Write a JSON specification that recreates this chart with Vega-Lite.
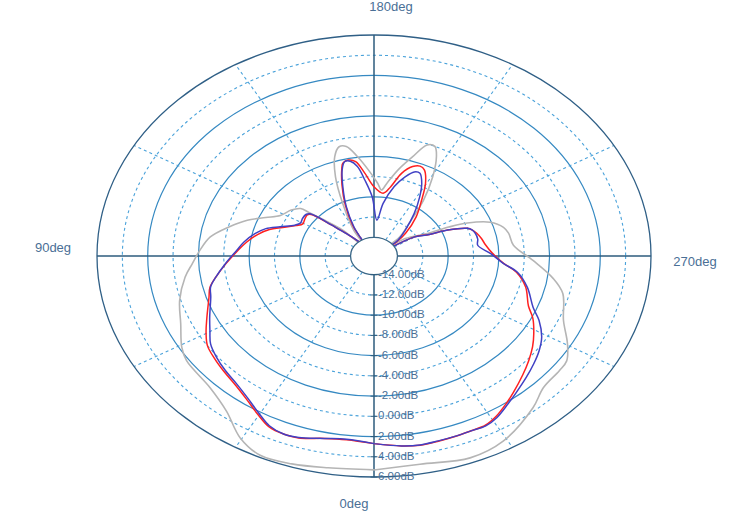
{
  "$schema": "https://vega.github.io/schema/vega-lite/v6.json",
  "width": 554,
  "height": 442,
  "autosize": {"type": "none"},
  "padding": {"left": 97, "top": 35, "right": 84, "bottom": 35},
  "background": "white",
  "config": {"view": {"stroke": null}, "font": "Liberation Sans"},
  "datasets": {
    "solidRings": [{"level": -10}, {"level": -6}, {"level": -2}, {"level": 2}],
    "dashedRings": [{"level": -12}, {"level": -8}, {"level": -4}, {"level": 0}, {"level": 4}],
    "outerRing": [{"level": 6}],
    "center": [{"level": -14}],
    "spokes": [{"angle": 30}, {"angle": 60}, {"angle": 120}, {"angle": 150}, {"angle": 210}, {"angle": 240}, {"angle": 300}, {"angle": 330}],
    "angleLabels": [{"angle": 0, "label": "0deg"}, {"angle": 90, "label": "90deg"}, {"angle": 180, "label": "180deg"}, {"angle": 270, "label": "270deg"}],
    "radialLabels": [{"level": -14}, {"level": -12}, {"level": -10}, {"level": -8}, {"level": -6}, {"level": -4}, {"level": -2}, {"level": 0}, {"level": 2}, {"level": 4}, {"level": 6}],
    "traces": [
      {"trace": "Gray", "angle": 0, "dB": 5.3}, {"trace": "Gray", "angle": 9.8, "dB": 5.4}, {"trace": "Gray", "angle": 17.5, "dB": 5.7}, {"trace": "Gray", "angle": 24.5, "dB": 5.8}, {"trace": "Gray", "angle": 30.4, "dB": 5.0}, {"trace": "Gray", "angle": 37.2, "dB": 3.4}, {"trace": "Gray", "angle": 44.8, "dB": 2.5}, {"trace": "Gray", "angle": 55, "dB": 2.2}, {"trace": "Gray", "angle": 59.2, "dB": 1.8}, {"trace": "Gray", "angle": 66.3, "dB": 0.8}, {"trace": "Gray", "angle": 74, "dB": 0.1}, {"trace": "Gray", "angle": 82, "dB": -0.8}, {"trace": "Gray", "angle": 87, "dB": -1.5}, {"trace": "Gray", "angle": 92.3, "dB": -2.1}, {"trace": "Gray", "angle": 98.3, "dB": -2.8}, {"trace": "Gray", "angle": 104.1, "dB": -4.05}, {"trace": "Gray", "angle": 109.5, "dB": -5.25}, {"trace": "Gray", "angle": 114, "dB": -6.5}, {"trace": "Gray", "angle": 118.5, "dB": -7.45}, {"trace": "Gray", "angle": 124.8, "dB": -7.9}, {"trace": "Gray", "angle": 129, "dB": -8.4}, {"trace": "Gray", "angle": 130, "dB": -9.2}, {"trace": "Gray", "angle": 132.2, "dB": -10.6}, {"trace": "Gray", "angle": 136, "dB": -12.3}, {"trace": "Gray", "angle": 142, "dB": -15}, {"trace": "Gray", "angle": 148, "dB": -12.85}, {"trace": "Gray", "angle": 154.6, "dB": -10.1}, {"trace": "Gray", "angle": 158.8, "dB": -7.45}, {"trace": "Gray", "angle": 162.5, "dB": -5.55}, {"trace": "Gray", "angle": 165.7, "dB": -4.7}, {"trace": "Gray", "angle": 168.6, "dB": -4.8}, {"trace": "Gray", "angle": 172.5, "dB": -5.95}, {"trace": "Gray", "angle": 177.1, "dB": -7.35}, {"trace": "Gray", "angle": 182.3, "dB": -8.65}, {"trace": "Gray", "angle": 185.1, "dB": -9.3}, {"trace": "Gray", "angle": 188, "dB": -8.6}, {"trace": "Gray", "angle": 192.5, "dB": -7.15}, {"trace": "Gray", "angle": 197.2, "dB": -5.6}, {"trace": "Gray", "angle": 200.9, "dB": -4.1}, {"trace": "Gray", "angle": 203.9, "dB": -4.0}, {"trace": "Gray", "angle": 206.6, "dB": -4.85}, {"trace": "Gray", "angle": 210.6, "dB": -6.75}, {"trace": "Gray", "angle": 215.3, "dB": -9.1}, {"trace": "Gray", "angle": 220.6, "dB": -11.6}, {"trace": "Gray", "angle": 227.2, "dB": -13.1}, {"trace": "Gray", "angle": 231, "dB": -15}, {"trace": "Gray", "angle": 235, "dB": -12.85}, {"trace": "Gray", "angle": 242.2, "dB": -11.1}, {"trace": "Gray", "angle": 244.1, "dB": -9.3}, {"trace": "Gray", "angle": 246.1, "dB": -7.8}, {"trace": "Gray", "angle": 250, "dB": -6.1}, {"trace": "Gray", "angle": 254.5, "dB": -5.25}, {"trace": "Gray", "angle": 258, "dB": -5.0}, {"trace": "Gray", "angle": 264.5, "dB": -4.8}, {"trace": "Gray", "angle": 272, "dB": -3.3}, {"trace": "Gray", "angle": 278.9, "dB": -1.55}, {"trace": "Gray", "angle": 284, "dB": -0.5}, {"trace": "Gray", "angle": 293.1, "dB": 0.4}, {"trace": "Gray", "angle": 299.6, "dB": 1.7}, {"trace": "Gray", "angle": 304.3, "dB": 2.55}, {"trace": "Gray", "angle": 307.8, "dB": 2.65}, {"trace": "Gray", "angle": 314.2, "dB": 2.8}, {"trace": "Gray", "angle": 320.1, "dB": 3.7}, {"trace": "Gray", "angle": 330.9, "dB": 5.1}, {"trace": "Gray", "angle": 339.2, "dB": 5.5}, {"trace": "Gray", "angle": 350, "dB": 5.05}, {"trace": "Gray", "angle": 360, "dB": 5.3},
      {"trace": "Red", "angle": 0, "dB": 2.7}, {"trace": "Red", "angle": 6.8, "dB": 2.45}, {"trace": "Red", "angle": 12.2, "dB": 2.6}, {"trace": "Red", "angle": 18.3, "dB": 3.1}, {"trace": "Red", "angle": 21.9, "dB": 3.15}, {"trace": "Red", "angle": 26.2, "dB": 2.95}, {"trace": "Red", "angle": 30.3, "dB": 2.3}, {"trace": "Red", "angle": 35.5, "dB": 1.5}, {"trace": "Red", "angle": 40.6, "dB": 0.95}, {"trace": "Red", "angle": 46, "dB": 0.6}, {"trace": "Red", "angle": 51.2, "dB": 0.3}, {"trace": "Red", "angle": 56, "dB": 0.0}, {"trace": "Red", "angle": 60.3, "dB": -0.6}, {"trace": "Red", "angle": 65, "dB": -1.3}, {"trace": "Red", "angle": 72.5, "dB": -2.2}, {"trace": "Red", "angle": 76.6, "dB": -2.55}, {"trace": "Red", "angle": 80.5, "dB": -3.2}, {"trace": "Red", "angle": 86.3, "dB": -4.15}, {"trace": "Red", "angle": 92.9, "dB": -5.1}, {"trace": "Red", "angle": 97.7, "dB": -5.7}, {"trace": "Red", "angle": 103.2, "dB": -6.45}, {"trace": "Red", "angle": 107.6, "dB": -7.2}, {"trace": "Red", "angle": 111.3, "dB": -8.1}, {"trace": "Red", "angle": 116, "dB": -9.0}, {"trace": "Red", "angle": 119.5, "dB": -9.4}, {"trace": "Red", "angle": 123.3, "dB": -9.3}, {"trace": "Red", "angle": 127.7, "dB": -9.2}, {"trace": "Red", "angle": 129.6, "dB": -9.4}, {"trace": "Red", "angle": 130.8, "dB": -10.0}, {"trace": "Red", "angle": 132.4, "dB": -11.3}, {"trace": "Red", "angle": 135.5, "dB": -12.75}, {"trace": "Red", "angle": 140, "dB": -14}, {"trace": "Red", "angle": 144, "dB": -15}, {"trace": "Red", "angle": 151, "dB": -12.4}, {"trace": "Red", "angle": 155.9, "dB": -10.3}, {"trace": "Red", "angle": 160.2, "dB": -8.4}, {"trace": "Red", "angle": 163.5, "dB": -6.9}, {"trace": "Red", "angle": 165, "dB": -6.35}, {"trace": "Red", "angle": 167.9, "dB": -6.15}, {"trace": "Red", "angle": 171.2, "dB": -6.4}, {"trace": "Red", "angle": 175, "dB": -7.65}, {"trace": "Red", "angle": 180, "dB": -9.0}, {"trace": "Red", "angle": 186.6, "dB": -9.6}, {"trace": "Red", "angle": 190.8, "dB": -8.9}, {"trace": "Red", "angle": 194.9, "dB": -7.4}, {"trace": "Red", "angle": 199, "dB": -6.5}, {"trace": "Red", "angle": 202.2, "dB": -6.25}, {"trace": "Red", "angle": 205, "dB": -6.45}, {"trace": "Red", "angle": 209.5, "dB": -7.6}, {"trace": "Red", "angle": 214.3, "dB": -9.2}, {"trace": "Red", "angle": 220.7, "dB": -10.75}, {"trace": "Red", "angle": 228, "dB": -12.5}, {"trace": "Red", "angle": 232, "dB": -13.6}, {"trace": "Red", "angle": 235, "dB": -15}, {"trace": "Red", "angle": 239.2, "dB": -12.2}, {"trace": "Red", "angle": 244, "dB": -11.0}, {"trace": "Red", "angle": 246.2, "dB": -9.5}, {"trace": "Red", "angle": 249.6, "dB": -8.0}, {"trace": "Red", "angle": 251.5, "dB": -7.7}, {"trace": "Red", "angle": 254.3, "dB": -7.45}, {"trace": "Red", "angle": 258.5, "dB": -7.2}, {"trace": "Red", "angle": 262.6, "dB": -7.0}, {"trace": "Red", "angle": 268.4, "dB": -6.5}, {"trace": "Red", "angle": 274.1, "dB": -5.6}, {"trace": "Red", "angle": 278.1, "dB": -4.5}, {"trace": "Red", "angle": 284.4, "dB": -3.5}, {"trace": "Red", "angle": 292.1, "dB": -2.7}, {"trace": "Red", "angle": 296.1, "dB": -1.9}, {"trace": "Red", "angle": 301.3, "dB": -1.1}, {"trace": "Red", "angle": 305.7, "dB": -0.45}, {"trace": "Red", "angle": 310.3, "dB": 0.15}, {"trace": "Red", "angle": 315, "dB": 0.75}, {"trace": "Red", "angle": 320.8, "dB": 1.55}, {"trace": "Red", "angle": 324.2, "dB": 2.05}, {"trace": "Red", "angle": 328.7, "dB": 2.7}, {"trace": "Red", "angle": 332.3, "dB": 3.05}, {"trace": "Red", "angle": 336.1, "dB": 3.05}, {"trace": "Red", "angle": 339.9, "dB": 3.1}, {"trace": "Red", "angle": 344.5, "dB": 3.15}, {"trace": "Red", "angle": 349, "dB": 3.2}, {"trace": "Red", "angle": 353.4, "dB": 3.05}, {"trace": "Red", "angle": 360, "dB": 2.7},
      {"trace": "Blue", "angle": 0, "dB": 2.7}, {"trace": "Blue", "angle": 6.8, "dB": 2.4}, {"trace": "Blue", "angle": 12.2, "dB": 2.6}, {"trace": "Blue", "angle": 18.3, "dB": 3.05}, {"trace": "Blue", "angle": 21.9, "dB": 3.15}, {"trace": "Blue", "angle": 26.2, "dB": 2.85}, {"trace": "Blue", "angle": 30.3, "dB": 2.15}, {"trace": "Blue", "angle": 35.5, "dB": 1.35}, {"trace": "Blue", "angle": 40.6, "dB": 0.8}, {"trace": "Blue", "angle": 46, "dB": 0.45}, {"trace": "Blue", "angle": 51.2, "dB": 0.1}, {"trace": "Blue", "angle": 56, "dB": -0.3}, {"trace": "Blue", "angle": 60.3, "dB": -0.95}, {"trace": "Blue", "angle": 65, "dB": -1.55}, {"trace": "Blue", "angle": 72.5, "dB": -2.35}, {"trace": "Blue", "angle": 76.6, "dB": -2.6}, {"trace": "Blue", "angle": 80.5, "dB": -3.2}, {"trace": "Blue", "angle": 86.3, "dB": -4.1}, {"trace": "Blue", "angle": 92.9, "dB": -5.0}, {"trace": "Blue", "angle": 97.7, "dB": -5.5}, {"trace": "Blue", "angle": 103.2, "dB": -6.2}, {"trace": "Blue", "angle": 107.6, "dB": -6.9}, {"trace": "Blue", "angle": 111.3, "dB": -7.9}, {"trace": "Blue", "angle": 116, "dB": -8.9}, {"trace": "Blue", "angle": 119.5, "dB": -9.2}, {"trace": "Blue", "angle": 123.3, "dB": -9.1}, {"trace": "Blue", "angle": 127.7, "dB": -9.1}, {"trace": "Blue", "angle": 129.6, "dB": -9.3}, {"trace": "Blue", "angle": 130.8, "dB": -9.9}, {"trace": "Blue", "angle": 132.4, "dB": -11.3}, {"trace": "Blue", "angle": 135.5, "dB": -12.75}, {"trace": "Blue", "angle": 140, "dB": -14}, {"trace": "Blue", "angle": 144, "dB": -15}, {"trace": "Blue", "angle": 151.1, "dB": -12.6}, {"trace": "Blue", "angle": 155.9, "dB": -10.5}, {"trace": "Blue", "angle": 160.2, "dB": -8.6}, {"trace": "Blue", "angle": 163.5, "dB": -7.0}, {"trace": "Blue", "angle": 166, "dB": -6.25}, {"trace": "Blue", "angle": 168.7, "dB": -6.3}, {"trace": "Blue", "angle": 171.6, "dB": -6.9}, {"trace": "Blue", "angle": 174.5, "dB": -8.3}, {"trace": "Blue", "angle": 178.6, "dB": -10.0}, {"trace": "Blue", "angle": 183.7, "dB": -12.3}, {"trace": "Blue", "angle": 187.9, "dB": -10.6}, {"trace": "Blue", "angle": 193.1, "dB": -8.8}, {"trace": "Blue", "angle": 197.4, "dB": -7.65}, {"trace": "Blue", "angle": 200.9, "dB": -6.95}, {"trace": "Blue", "angle": 203.9, "dB": -6.9}, {"trace": "Blue", "angle": 207.7, "dB": -7.75}, {"trace": "Blue", "angle": 211.7, "dB": -9.0}, {"trace": "Blue", "angle": 217.1, "dB": -10.6}, {"trace": "Blue", "angle": 224, "dB": -12.3}, {"trace": "Blue", "angle": 230.5, "dB": -13.4}, {"trace": "Blue", "angle": 235, "dB": -15}, {"trace": "Blue", "angle": 239.2, "dB": -12.25}, {"trace": "Blue", "angle": 244, "dB": -11.0}, {"trace": "Blue", "angle": 246.2, "dB": -9.5}, {"trace": "Blue", "angle": 249.6, "dB": -8.0}, {"trace": "Blue", "angle": 251.5, "dB": -7.7}, {"trace": "Blue", "angle": 254.3, "dB": -7.55}, {"trace": "Blue", "angle": 258.5, "dB": -7.5}, {"trace": "Blue", "angle": 262.6, "dB": -7.6}, {"trace": "Blue", "angle": 268.4, "dB": -6.67}, {"trace": "Blue", "angle": 274.1, "dB": -5.63}, {"trace": "Blue", "angle": 278.1, "dB": -4.42}, {"trace": "Blue", "angle": 284.4, "dB": -3.36}, {"trace": "Blue", "angle": 292.1, "dB": -2.3}, {"trace": "Blue", "angle": 296.1, "dB": -1.35}, {"trace": "Blue", "angle": 301.3, "dB": -0.37}, {"trace": "Blue", "angle": 305.7, "dB": 0.19}, {"trace": "Blue", "angle": 310.3, "dB": 0.66}, {"trace": "Blue", "angle": 315, "dB": 1.13}, {"trace": "Blue", "angle": 320.8, "dB": 1.77}, {"trace": "Blue", "angle": 324.2, "dB": 2.2}, {"trace": "Blue", "angle": 328.7, "dB": 2.83}, {"trace": "Blue", "angle": 332.3, "dB": 3.12}, {"trace": "Blue", "angle": 336.1, "dB": 3.06}, {"trace": "Blue", "angle": 339.9, "dB": 3.09}, {"trace": "Blue", "angle": 344.5, "dB": 3.12}, {"trace": "Blue", "angle": 349, "dB": 3.18}, {"trace": "Blue", "angle": 353.4, "dB": 3.05}, {"trace": "Blue", "angle": 360, "dB": 2.7}
    ]
  },
  "layer": [
    {
      "data": {"name": "dashedRings"},
      "transform": [{"calculate": "datum.level + 15.85", "as": "r"}],
      "mark": {"type": "point", "shape": "M1,0C1,0.4406,0.5523,0.7978,0,0.7978C-0.5523,0.7978,-1,0.4406,-1,0C-1,-0.4406,-0.5523,-0.7978,0,-0.7978C0.5523,-0.7978,1,-0.4406,1,0Z", "filled": false, "stroke": "#4aa2da", "strokeWidth": 1.1, "strokeDash": [3, 3], "opacity": 1},
      "encoding": {
        "x": {"datum": 0, "type": "quantitative", "scale": {"domain": [-21.85, 21.85], "nice": false, "zero": false}, "axis": null},
        "y": {"datum": 0, "type": "quantitative", "scale": {"domain": [-21.85, 21.85], "nice": false, "zero": false}, "axis": null},
        "size": {"field": "r", "type": "quantitative", "scale": {"type": "pow", "exponent": 2, "domain": [0, 21.85], "range": [0, 306916]}, "legend": null}
      }
    },
    {
      "data": {"name": "solidRings"},
      "transform": [{"calculate": "datum.level + 15.85", "as": "r"}],
      "mark": {"type": "point", "shape": "M1,0C1,0.4406,0.5523,0.7978,0,0.7978C-0.5523,0.7978,-1,0.4406,-1,0C-1,-0.4406,-0.5523,-0.7978,0,-0.7978C0.5523,-0.7978,1,-0.4406,1,0Z", "filled": false, "stroke": "#3589c2", "strokeWidth": 1.2, "opacity": 1},
      "encoding": {
        "x": {"datum": 0, "type": "quantitative"},
        "y": {"datum": 0, "type": "quantitative"},
        "size": {"field": "r", "type": "quantitative", "legend": null}
      }
    },
    {
      "data": {"name": "spokes"},
      "transform": [
        {"calculate": "-sin(datum.angle * PI / 180) * 1.85", "as": "x1"},
        {"calculate": "-cos(datum.angle * PI / 180) * 1.85", "as": "y1"},
        {"calculate": "-sin(datum.angle * PI / 180) * 21.85", "as": "x2"},
        {"calculate": "-cos(datum.angle * PI / 180) * 21.85", "as": "y2"}
      ],
      "mark": {"type": "rule", "stroke": "#4aa2da", "strokeWidth": 1.1, "strokeDash": [3, 3]},
      "encoding": {
        "x": {"field": "x1", "type": "quantitative"},
        "y": {"field": "y1", "type": "quantitative"},
        "x2": {"field": "x2"},
        "y2": {"field": "y2"}
      }
    },
    {
      "data": {"name": "outerRing"},
      "transform": [{"calculate": "datum.level + 15.85", "as": "r"}],
      "mark": {"type": "point", "shape": "M1,0C1,0.4406,0.5523,0.7978,0,0.7978C-0.5523,0.7978,-1,0.4406,-1,0C-1,-0.4406,-0.5523,-0.7978,0,-0.7978C0.5523,-0.7978,1,-0.4406,1,0Z", "filled": false, "stroke": "#2f5f86", "strokeWidth": 1.3, "opacity": 1},
      "encoding": {
        "x": {"datum": 0, "type": "quantitative"},
        "y": {"datum": 0, "type": "quantitative"},
        "size": {"field": "r", "type": "quantitative", "legend": null}
      }
    },
    {
      "data": {"name": "outerRing"},
      "mark": {"type": "rule", "stroke": "#2d5b7c", "strokeWidth": 1.5},
      "encoding": {"x": {"datum": -21.85, "type": "quantitative"}, "x2": {"datum": 21.85}, "y": {"datum": 0, "type": "quantitative"}}
    },
    {
      "data": {"name": "outerRing"},
      "mark": {"type": "rule", "stroke": "#2d5b7c", "strokeWidth": 1.5},
      "encoding": {"y": {"datum": -21.85, "type": "quantitative"}, "y2": {"datum": 21.85}, "x": {"datum": 0, "type": "quantitative"}}
    },
    {
      "data": {"name": "traces"},
      "transform": [
        {"filter": "datum.trace === 'Gray'"},
        {"calculate": "datum.dB + 15.85", "as": "r"},
        {"calculate": "-sin(datum.angle * PI / 180) * datum.r", "as": "px"},
        {"calculate": "-cos(datum.angle * PI / 180) * datum.r", "as": "py"}
      ],
      "mark": {"type": "line", "stroke": "#b5b5b5", "strokeWidth": 1.6, "interpolate": "catmull-rom"},
      "encoding": {
        "x": {"field": "px", "type": "quantitative"},
        "y": {"field": "py", "type": "quantitative"},
        "order": {"field": "angle", "type": "quantitative"}
      }
    },
    {
      "data": {"name": "traces"},
      "transform": [
        {"filter": "datum.trace === 'Red'"},
        {"calculate": "datum.dB + 15.85", "as": "r"},
        {"calculate": "-sin(datum.angle * PI / 180) * datum.r", "as": "px"},
        {"calculate": "-cos(datum.angle * PI / 180) * datum.r", "as": "py"}
      ],
      "mark": {"type": "line", "stroke": "#ff2020", "strokeWidth": 1.5, "interpolate": "catmull-rom"},
      "encoding": {
        "x": {"field": "px", "type": "quantitative"},
        "y": {"field": "py", "type": "quantitative"},
        "order": {"field": "angle", "type": "quantitative"}
      }
    },
    {
      "data": {"name": "traces"},
      "transform": [
        {"filter": "datum.trace === 'Blue'"},
        {"calculate": "datum.dB + 15.85", "as": "r"},
        {"calculate": "-sin(datum.angle * PI / 180) * datum.r", "as": "px"},
        {"calculate": "-cos(datum.angle * PI / 180) * datum.r", "as": "py"}
      ],
      "mark": {"type": "line", "stroke": "#4040c4", "strokeWidth": 1.5, "interpolate": "catmull-rom"},
      "encoding": {
        "x": {"field": "px", "type": "quantitative"},
        "y": {"field": "py", "type": "quantitative"},
        "order": {"field": "angle", "type": "quantitative"}
      }
    },
    {
      "data": {"name": "center"},
      "transform": [{"calculate": "datum.level + 15.85", "as": "r"}],
      "mark": {"type": "point", "shape": "M1,0C1,0.4406,0.5523,0.7978,0,0.7978C-0.5523,0.7978,-1,0.4406,-1,0C-1,-0.4406,-0.5523,-0.7978,0,-0.7978C0.5523,-0.7978,1,-0.4406,1,0Z", "filled": true, "fill": "white", "stroke": "#3a6787", "strokeWidth": 1.3, "opacity": 1},
      "encoding": {
        "x": {"datum": 0, "type": "quantitative"},
        "y": {"datum": 0, "type": "quantitative"},
        "size": {"field": "r", "type": "quantitative", "legend": null}
      }
    },
    {
      "data": {"name": "radialLabels"},
      "transform": [{"calculate": "-(datum.level + 15.85)", "as": "py"}],
      "mark": {"type": "tick", "orient": "horizontal", "size": 7, "thickness": 1, "color": "#2d5b7c", "opacity": 1},
      "encoding": {
        "x": {"datum": 0, "type": "quantitative"},
        "y": {"field": "py", "type": "quantitative"}
      }
    },
    {
      "data": {"name": "radialLabels"},
      "transform": [
        {"calculate": "-(datum.level + 15.85)", "as": "py"},
        {"calculate": "replace(format(datum.level, '.2f'), '\u2212', '-') + 'dB'", "as": "label"}
      ],
      "mark": {"type": "text", "align": "left", "baseline": "middle", "dx": 4, "fontSize": 11.5, "color": "#4a6f96"},
      "encoding": {
        "x": {"datum": 0, "type": "quantitative"},
        "y": {"field": "py", "type": "quantitative"},
        "text": {"field": "label"}
      }
    },
    {
      "data": {"name": "angleLabels"},
      "transform": [{"filter": "datum.angle === 180"}],
      "mark": {"type": "text", "align": "center", "baseline": "middle", "dx": 17, "dy": -28, "fontSize": 13, "color": "#4a6f96"},
      "encoding": {"x": {"datum": 0, "type": "quantitative"}, "y": {"datum": 21.85, "type": "quantitative"}, "text": {"field": "label"}}
    },
    {
      "data": {"name": "angleLabels"},
      "transform": [{"filter": "datum.angle === 0"}],
      "mark": {"type": "text", "align": "center", "baseline": "middle", "dx": -20, "dy": 27, "fontSize": 13, "color": "#4a6f96"},
      "encoding": {"x": {"datum": 0, "type": "quantitative"}, "y": {"datum": -21.85, "type": "quantitative"}, "text": {"field": "label"}}
    },
    {
      "data": {"name": "angleLabels"},
      "transform": [{"filter": "datum.angle === 90"}],
      "mark": {"type": "text", "align": "center", "baseline": "middle", "dx": -44, "dy": -8, "fontSize": 13, "color": "#4a6f96"},
      "encoding": {"x": {"datum": -21.85, "type": "quantitative"}, "y": {"datum": 0, "type": "quantitative"}, "text": {"field": "label"}}
    },
    {
      "data": {"name": "angleLabels"},
      "transform": [{"filter": "datum.angle === 270"}],
      "mark": {"type": "text", "align": "center", "baseline": "middle", "dx": 44, "dy": 6, "fontSize": 13, "color": "#4a6f96"},
      "encoding": {"x": {"datum": 21.85, "type": "quantitative"}, "y": {"datum": 0, "type": "quantitative"}, "text": {"field": "label"}}
    }
  ]
}
